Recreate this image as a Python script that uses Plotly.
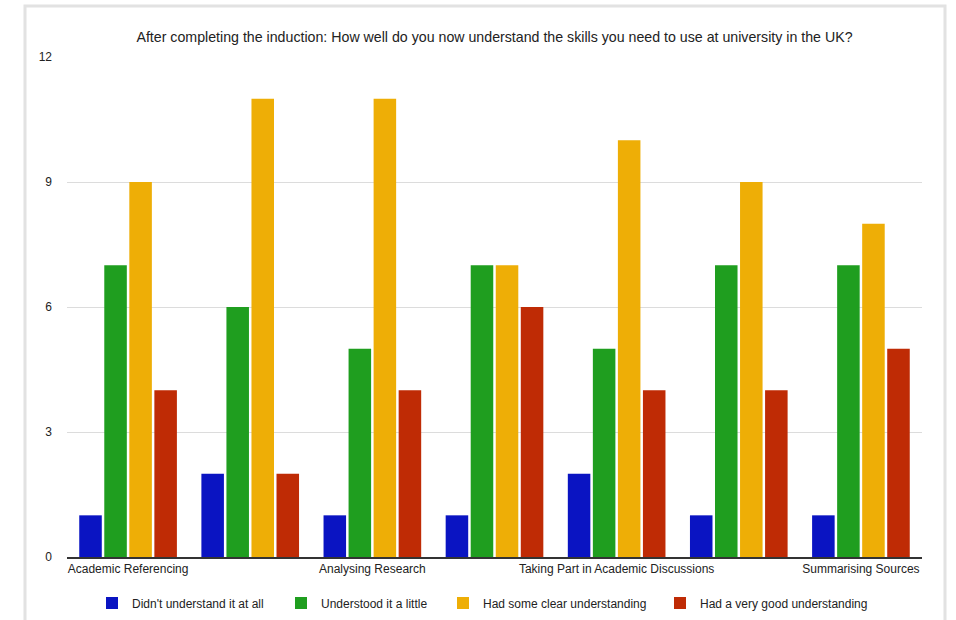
import plotly.graph_objects as go

# Skills covered in the induction survey (only every other label is printed on the axis)
categories = [
    "Academic Referencing",
    "Critical Thinking",
    "Analysing Research",
    "Academic Writing",
    "Taking Part in Academic Discussions",
    "Presentations",
    "Summarising Sources",
]
shown_labels = categories[::2]

series_names = [
    "Didn't understand it at all",
    "Understood it a little",
    "Had some clear understanding",
    "Had a very good understanding",
]
not_at_all = [1, 2, 1, 1, 2, 1, 1]
a_little = [7, 6, 5, 7, 5, 7, 7]
some_clear = [9, 11, 11, 7, 10, 9, 8]
very_good = [4, 2, 4, 6, 4, 4, 5]

y_ticks = [0, 3, 6, 9, 12]

colors = ["#0a14c2", "#1f9e1f", "#eeae06", "#bf2b05"]
values = [not_at_all, a_little, some_clear, very_good]

# plot area geometry (pixels) used to place the legend entries and frame
W, H = 956, 620
ML, MR, MT, MB = 67, 34, 57, 63
PW, PH = W - ML - MR, H - MT - MB

def px_x(px):
    return (px - ML) / PW

def px_y(py):
    return (H - MB - py) / PH

# each series gets its own one-entry legend so the entries sit where they should
legend_left_px = [92, 281, 443, 660]
legend_ids = ["legend", "legend2", "legend3", "legend4"]

font_family = "Liberation Sans, Arial, sans-serif"

fig = go.Figure()
for name, vals, col, lid in zip(series_names, values, colors, legend_ids):
    fig.add_trace(go.Bar(
        x=categories, y=vals, name=name, legend=lid, showlegend=True,
        marker=dict(color=col, line=dict(width=0)),
    ))

legend_common = dict(
    orientation="h", xanchor="left", yanchor="middle", y=px_y(603),
    font=dict(size=12, color="#222222"), itemwidth=30,
    bgcolor="rgba(0,0,0,0)",
)
legends = {}
for lid, lx in zip(legend_ids, legend_left_px):
    legends[lid] = dict(legend_common, x=px_x(lx))

fig.update_layout(
    width=W, height=H,
    showlegend=True,
    margin=dict(l=ML, r=MR, t=MT, b=MB, autoexpand=False),
    paper_bgcolor="white", plot_bgcolor="white",
    barmode="group", bargap=0.18, bargroupgap=0.1,
    font=dict(family=font_family, size=12, color="#222222"),
    title=dict(
        text="After completing the induction: How well do you now understand the skills you need to use at university in the UK?",
        x=0.5, xref="paper", xanchor="center",
        y=1.0 - 37 / H, yanchor="middle",
        font=dict(size=14.2, color="#222222"),
    ),
    xaxis=dict(
        type="category", categoryorder="array", categoryarray=categories,
        tickmode="array", tickvals=shown_labels, ticktext=shown_labels,
        showline=True, linecolor="#333333", linewidth=1.5,
        showgrid=False, ticks="", ticklen=0,
        tickfont=dict(size=12, color="#222222"),
    ),
    yaxis=dict(
        range=[0, 12], tickmode="array", tickvals=y_ticks,
        showgrid=True, gridcolor="#dcdcdc", gridwidth=1,
        zeroline=False, showline=False, ticks="",
        ticklabelstandoff=14,
        tickfont=dict(size=12, color="#222222"),
    ),
    shapes=[dict(
        type="rect", xref="paper", yref="paper",
        x0=px_x(25), x1=px_x(945), y0=px_y(640), y1=px_y(6),
        line=dict(color="#e2e2e2", width=3), fillcolor="rgba(0,0,0,0)",
        layer="below",
    )],
    **legends,
)

fig.write_html("out.html")
